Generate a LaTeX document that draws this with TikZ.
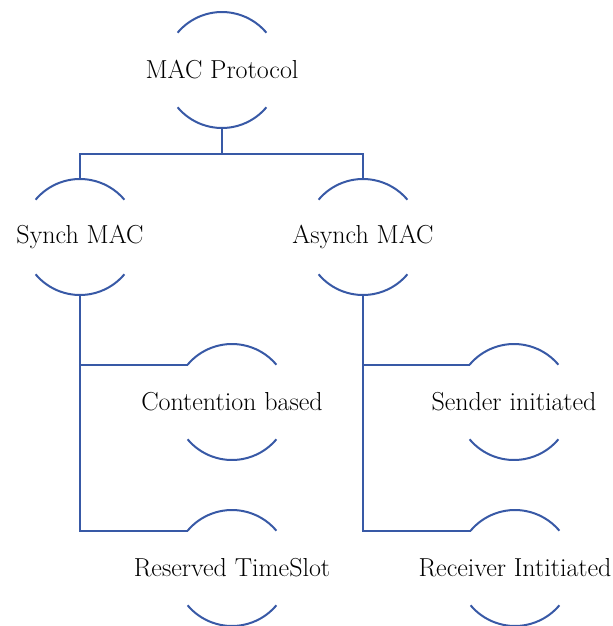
\documentclass[tikz,border=0pt]{standalone}
\usepackage{tikz}
\usetikzlibrary{positioning,calc}
\definecolor{linkblue}{RGB}{56,89,166}
\tikzstyle{ring}=[circle, minimum size=87pt, inner sep=0pt, outer sep=0pt]
\tikzstyle{arcline}=[draw=linkblue, line width=1.5pt]
\tikzstyle{link}=[draw=linkblue, line width=1.5pt]
\tikzset{every label/.style={font=\fontsize{19.5}{23}\selectfont, inner sep=0pt}}

\begin{document}
\begin{tikzpicture}[x=0.75pt, y=0.75pt]
  \useasboundingbox (0,0) rectangle (612,-626);

  \node [ring, label=center:MAC Protocol] at (222, -70) (mac) {};
  \node [ring, label=center:Synch MAC] at (80, -237) (syn) {};
  \node [ring, label=center:Asynch MAC] at (363, -237) (asy) {};
  \node [ring, label=center:Contention based] at (232, -402) (con) {};
  \node [ring, label=center:Sender initiated] at (514, -402) (snd) {};
  \node [ring, label=center:Reserved TimeSlot] at (232, -568) (res) {};
  \node [ring, label=center:Receiver Intitiated] at (515, -568) (rcv) {};

  \foreach \n in {mac,syn,asy,con,snd,res,rcv} {
    \draw [arcline] (\n.140) arc [start angle=140, end angle=40, radius=58];
    \draw [arcline] (\n.220) arc [start angle=220, end angle=320, radius=58];
  }

  \draw [link] (mac.south) -- ++(0,-26) -| (syn.north);
  \draw [link] (mac.south) -- ++(0,-26) -| (asy.north);

  \draw [link] (syn.south) |- (con.140);
  \draw [link] (syn.south) |- (res.140);

  \draw [link] (asy.south) |- (snd.140);
  \draw [link] (asy.south) |- (rcv.140);
\end{tikzpicture}
\end{document}
